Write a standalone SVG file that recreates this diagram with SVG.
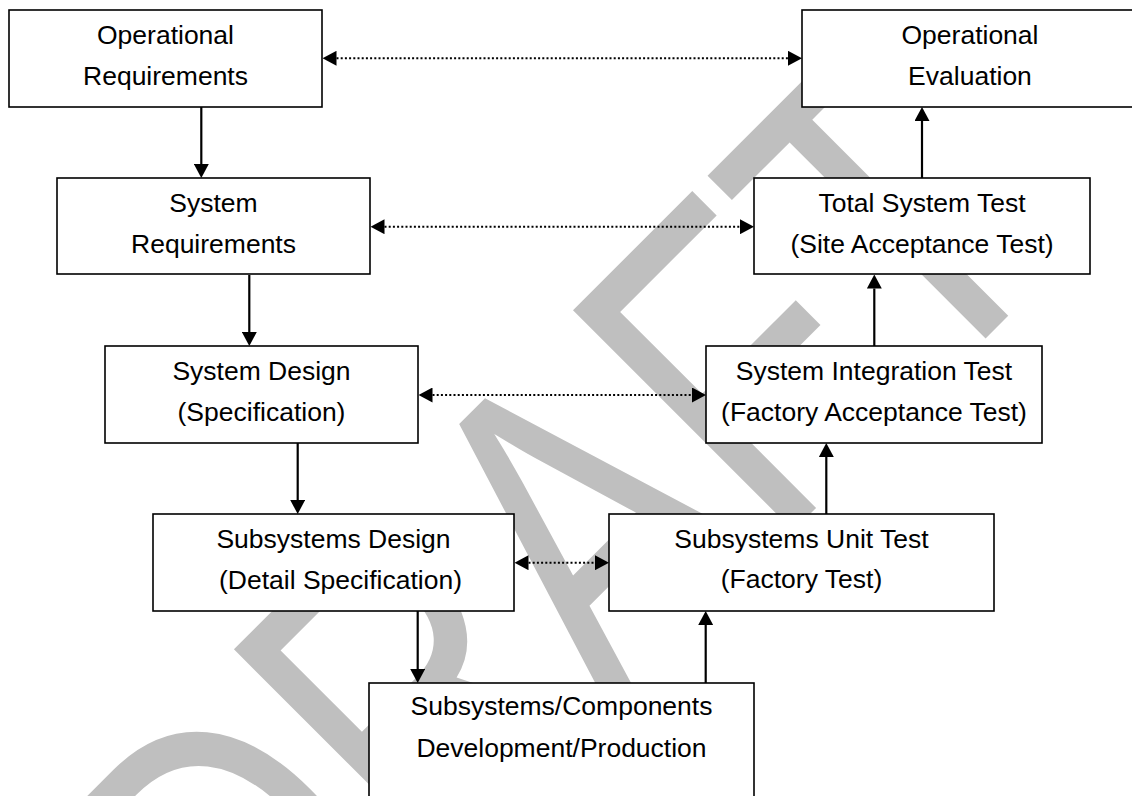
<svg xmlns="http://www.w3.org/2000/svg" width="1132" height="796" viewBox="0 0 1132 796">
<style>
.wm{font-family:"Liberation Sans",Arial,sans-serif;font-size:453px;fill:#bfbfbf;font-kerning:none}
.box{fill:#fff;stroke:#000;stroke-width:1.6}
.lbl{font-family:"Liberation Sans",Arial,sans-serif;font-size:26.5px;fill:#000;text-anchor:middle}
.solid{stroke:#000;stroke-width:2.2;fill:none}
.dot{stroke:#000;stroke-width:2;stroke-dasharray:2 2.2;fill:none}
</style>
<defs>
<marker id="ah" viewBox="0 0 14 15" refX="0" refY="7.5" markerWidth="14" markerHeight="15" markerUnits="userSpaceOnUse" orient="auto-start-reverse">
<path d="M0,0 L14,7.5 L0,15 z" fill="#000"/>
</marker>
</defs>
<rect width="1132" height="796" fill="#fff"/>
<g id="watermark">
<text class="wm" transform="translate(258,1066) rotate(-45) scale(0.762,1)">DRAFT</text>
</g>
<g id="op-req"><rect class="box" x="9" y="10" width="313" height="97"/><text class="lbl" x="165.5" y="44.3">Operational</text><text class="lbl" x="165.5" y="85">Requirements</text></g>
<g id="sys-req"><rect class="box" x="57" y="178" width="313" height="96"/><text class="lbl" x="213.5" y="211.7">System</text><text class="lbl" x="213.5" y="252.7">Requirements</text></g>
<g id="sys-design"><rect class="box" x="105" y="346" width="313" height="97"/><text class="lbl" x="261.5" y="380">System Design</text><text class="lbl" x="261.5" y="420.7">(Specification)</text></g>
<g id="sub-design"><rect class="box" x="153" y="514" width="361" height="97"/><text class="lbl" x="333.5" y="547.7">Subsystems Design</text><text class="lbl" x="340.5" y="589.3">(Detail Specification)</text></g>
<g id="sub-comp"><rect class="box" x="369" y="683" width="385" height="150"/><text class="lbl" x="561.5" y="715">Subsystems/Components</text><text class="lbl" x="561.5" y="756.7">Development/Production</text></g>
<g id="sub-unit-test"><rect class="box" x="609" y="514" width="385" height="97"/><text class="lbl" x="801.5" y="547.7">Subsystems Unit Test</text><text class="lbl" x="801.5" y="588.3">(Factory Test)</text></g>
<g id="sys-int-test"><rect class="box" x="706" y="346" width="336" height="97"/><text class="lbl" x="874" y="380">System Integration Test</text><text class="lbl" x="874" y="420.7">(Factory Acceptance Test)</text></g>
<g id="total-sys-test"><rect class="box" x="754" y="178" width="336" height="96"/><text class="lbl" x="922" y="211.7">Total System Test</text><text class="lbl" x="922" y="252.7">(Site Acceptance Test)</text></g>
<g id="op-eval"><rect class="box" x="802" y="10" width="336" height="97"/><text class="lbl" x="970" y="44.3">Operational</text><text class="lbl" x="970" y="85">Evaluation</text></g>
<g id="connectors">
<line class="solid" x1="201.3" y1="107" x2="201.3" y2="164" marker-end="url(#ah)"/>
<line class="solid" x1="249.3" y1="275" x2="249.3" y2="332" marker-end="url(#ah)"/>
<line class="solid" x1="297.7" y1="443" x2="297.7" y2="500" marker-end="url(#ah)"/>
<line class="solid" x1="417.7" y1="611" x2="417.7" y2="669" marker-end="url(#ah)"/>
<line class="solid" x1="705.7" y1="683" x2="705.7" y2="625" marker-end="url(#ah)"/>
<line class="solid" x1="826.3" y1="514" x2="826.3" y2="457" marker-end="url(#ah)"/>
<line class="solid" x1="874.3" y1="346" x2="874.3" y2="288.5" marker-end="url(#ah)"/>
<line class="solid" x1="922" y1="178" x2="922" y2="121" marker-end="url(#ah)"/>
<line class="dot" x1="336.5" y1="58.3" x2="788" y2="58.3" marker-start="url(#ah)" marker-end="url(#ah)"/>
<line class="dot" x1="384.5" y1="226.7" x2="740" y2="226.7" marker-start="url(#ah)" marker-end="url(#ah)"/>
<line class="dot" x1="432.5" y1="395" x2="692" y2="395" marker-start="url(#ah)" marker-end="url(#ah)"/>
<line class="dot" x1="528.5" y1="562.7" x2="595" y2="562.7" marker-start="url(#ah)" marker-end="url(#ah)"/>
</g>
</svg>
